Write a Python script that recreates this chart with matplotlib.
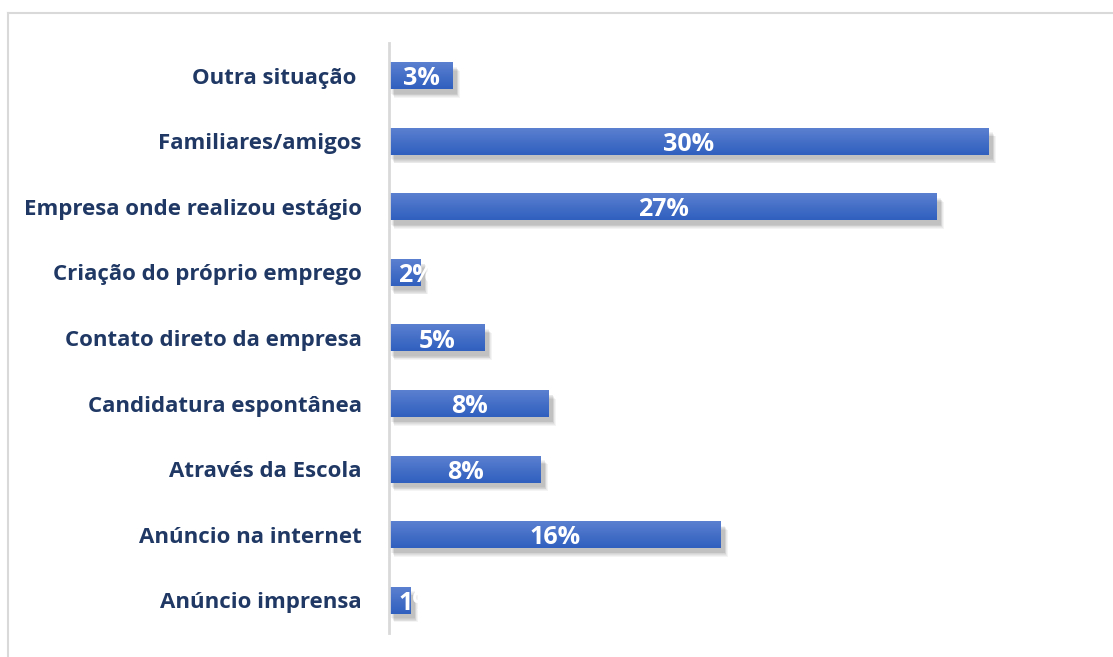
import numpy as np
import matplotlib.pyplot as plt
from matplotlib.colors import LinearSegmentedColormap
from matplotlib.patches import Rectangle
from matplotlib.lines import Line2D

# categories from bottom to top
categories = ['Anúncio imprensa', 'Anúncio na internet', 'Através da Escola',
              'Candidatura espontânea', 'Contato direto da empresa',
              'Criação do próprio emprego', 'Empresa onde realizou estágio',
              'Familiares/amigos', 'Outra situação ']
values = [1.1, 16.6, 7.6, 8.0, 4.8, 1.6, 27.4, 30.0, 3.2]
value_labels = ['1%', '16%', '8%', '8%', '5%', '2%', '27%', '30%', '3%']

fig = plt.figure(figsize=(11.13, 6.57), dpi=100)
ax = fig.add_axes([389 / 1113, 1 - 633 / 657, 700 / 1113, 590 / 657])

# frame of the chart area
fig.add_artist(Line2D([8 / 1113, 1.0], [1 - 13 / 657, 1 - 13 / 657],
                      transform=fig.transFigure, color='#d9d9d9', lw=1.5))
fig.add_artist(Line2D([8 / 1113, 8 / 1113], [0, 1 - 13 / 657],
                      transform=fig.transFigure, color='#d9d9d9', lw=1.5))

cmap = LinearSegmentedColormap.from_list('bar', ['#2f5fbf', '#5b80d0'])
grad = np.linspace(0, 1, 64).reshape(-1, 1)
h = 0.41

for i, v in enumerate(values):
    # soft drop shadow
    for k in range(6):
        ax.add_patch(Rectangle((0.12 + 0.03 * k, i - h / 2 - 0.07 - 0.012 * k),
                               v + 0.06, h,
                               facecolor='#000000', alpha=0.045,
                               edgecolor='none', zorder=1))
    ax.imshow(grad, extent=[0, v, i - h / 2, i + h / 2], origin='lower',
              cmap=cmap, aspect='auto', zorder=2, interpolation='bilinear')
    if v < 3:
        ax.text(0.45, i, value_labels[i], ha='left', va='center_baseline',
                color='white', fontsize=18, fontweight='bold',
                family='Open Sans', zorder=3)
    else:
        ax.text(v / 2, i, value_labels[i], ha='center', va='center_baseline',
                color='white', fontsize=18, fontweight='bold',
                family='Open Sans', zorder=3)

ax.set_xlim(0, 35)
ax.set_ylim(-0.5, len(categories) - 0.5)
ax.set_yticks(range(len(categories)))
ax.set_yticklabels(categories, fontsize=16, fontweight='bold',
                   color='#1f3864', family='Open Sans')
ax.tick_params(axis='y', length=0, pad=19.5)
ax.set_xticks([])
for s in ['top', 'right', 'bottom']:
    ax.spines[s].set_visible(False)
ax.spines['left'].set_color('#d9d9d9')
ax.spines['left'].set_linewidth(2)

fig.savefig('out.png', dpi=100)
